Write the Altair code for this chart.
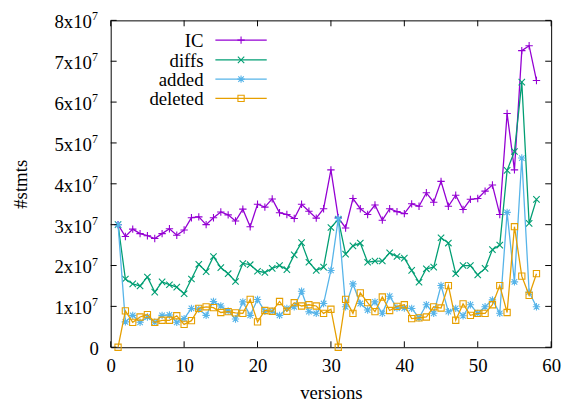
import altair as alt
import pandas as pd

versions = list(range(1, 59))

ic = [3.0, 2.71, 2.89, 2.78, 2.73, 2.66, 2.78, 2.9, 2.74, 2.87,
      3.17, 3.19, 3.0, 3.17, 3.31, 3.24, 3.09, 3.38, 2.95, 3.5,
      3.43, 3.63, 3.29, 3.25, 3.15, 3.5, 3.33, 3.16, 3.39, 4.34,
      3.17, 2.92, 3.64, 3.39, 3.25, 3.48, 3.11, 3.39, 3.32, 3.27,
      3.51, 3.45, 3.78, 3.55, 4.06, 3.45, 3.72, 3.37, 3.62, 3.64,
      3.82, 3.97, 3.25, 5.72, 4.34, 7.26, 7.38, 6.53]
diffs = [3.0, 1.67, 1.55, 1.5, 1.72, 1.35, 1.6, 1.53, 1.47, 1.31,
         1.67, 2.03, 1.85, 2.22, 1.95, 1.8, 1.61, 2.05, 2.02, 1.86,
         1.83, 1.93, 2.0, 1.9, 2.26, 2.56, 2.08, 1.88, 1.96, 2.93,
         3.13, 2.28, 2.48, 2.55, 2.08, 2.11, 2.11, 2.31, 2.22, 2.18,
         1.88, 1.59, 1.92, 1.96, 2.68, 2.55, 1.8, 2.0, 2.0, 1.77,
         1.93, 2.39, 2.5, 4.33, 4.79, 6.49, 3.03, 3.62]
added = [3.0, 0.62, 0.78, 0.61, 0.74, 0.61, 0.78, 0.79, 0.61, 0.7,
         0.95, 0.93, 0.78, 1.12, 1.01, 0.89, 0.69, 1.11, 0.78, 1.17,
         0.88, 0.88, 0.78, 0.95, 0.99, 1.37, 0.87, 0.83, 1.07, 1.88,
         3.15, 0.99, 1.55, 1.07, 0.91, 1.11, 0.83, 1.25, 0.96, 0.96,
         0.95, 0.72, 1.04, 0.83, 1.51, 0.87, 0.95, 0.77, 1.04, 0.83,
         0.99, 1.16, 0.83, 3.3, 1.6, 4.63, 1.35, 0.99]
deleted = [0.0, 0.89, 0.61, 0.74, 0.8, 0.61, 0.66, 0.66, 0.77, 0.56,
           0.65, 0.95, 0.99, 0.97, 0.85, 0.87, 0.84, 0.83, 1.17, 0.62,
           0.9, 0.88, 1.12, 0.88, 1.09, 1.01, 1.04, 1.01, 0.83, 0.93,
           0.0, 1.17, 0.83, 1.33, 1.09, 0.87, 1.23, 0.9, 1.0, 1.04,
           0.7, 0.72, 0.74, 0.99, 0.96, 1.51, 0.66, 1.06, 0.78, 0.83,
           0.83, 1.04, 1.51, 0.85, 2.95, 1.74, 1.27, 1.8]

series_names = ["IC", "diffs", "added", "deleted"]
series_values = [ic, diffs, added, deleted]
colors = ["#9400D3", "#009E73", "#56B4E9", "#E69F00"]
shapes = ["M-1,0L1,0M0,-1L0,1",
          "M-1,-1L1,1M-1,1L1,-1",
          "M-1,0L1,0M0,-1L0,1M-0.75,-0.75L0.75,0.75M-0.75,0.75L0.75,-0.75",
          "square"]
sizes = [56, 42, 56, 40]

x_ticks = [0, 10, 20, 30, 40, 50, 60]
y_ticks = [0, 1e7, 2e7, 3e7, 4e7, 5e7, 6e7, 7e7, 8e7]

W, H = 446, 331
FONT = "'Liberation Serif', 'Times New Roman', serif"
FS = 19

xscale = alt.Scale(domain=[0, 60], nice=False)
yscale = alt.Scale(domain=[0, 8e7], nice=False)

xaxis = alt.Axis(values=x_ticks, format="d", ticks=False, domain=False, grid=False,
                 labelFont=FONT, labelFontSize=FS, labelColor="black", labelPadding=10,
                 labelFlush=False,
                 title="versions", titleFont=FONT, titleFontSize=FS, titleFontWeight="normal",
                 titleColor="black", titlePadding=8)
yaxis = alt.Axis(values=y_ticks, labels=False, ticks=False, domain=False, grid=False,
                 title="#stmts", titleFont=FONT, titleFontSize=FS, titleFontWeight="normal",
                 titleColor="black", titlePadding=81)


def X(field):
    return alt.X(field, type="quantitative", scale=xscale, axis=xaxis)


def Y(field):
    return alt.Y(field, type="quantitative", scale=yscale, axis=yaxis)


layers = []

for k, (name, vals) in enumerate(zip(series_names, series_values)):
    df = pd.DataFrame({"version": versions, "value": [v * 1e7 for v in vals]})
    base = alt.Chart(df)
    layers.append(base.mark_line(color=colors[k], strokeWidth=1.3).encode(
        x=X("version"), y=Y("value")))
    layers.append(base.mark_point(shape=shapes[k], size=sizes[k], filled=False,
                                  color=colors[k], strokeWidth=1.1, opacity=1).encode(
        x=X("version"), y=Y("value")))

# inward mirrored ticks
ydf = pd.DataFrame({"v": y_ticks})
xdf = pd.DataFrame({"v": x_ticks})
TL = 6
layers.append(alt.Chart(ydf).mark_rule(color="black", strokeWidth=1).encode(
    y=Y("v"), x=alt.value(0), x2=alt.value(TL)))
layers.append(alt.Chart(ydf).mark_rule(color="black", strokeWidth=1).encode(
    y=Y("v"), x=alt.value(W - TL), x2=alt.value(W)))
layers.append(alt.Chart(xdf).mark_rule(color="black", strokeWidth=1).encode(
    x=X("v"), y=alt.value(H), y2=alt.value(H - TL)))
layers.append(alt.Chart(xdf).mark_rule(color="black", strokeWidth=1).encode(
    x=X("v"), y=alt.value(0), y2=alt.value(TL)))

# y tick labels "Nx10^7"
ylab = pd.DataFrame({"v": y_ticks[1:],
                     "base": [f"{i}x10" for i in range(1, 9)],
                     "sup": ["7"] * 8})
layers.append(alt.Chart(ylab).mark_text(align="right", baseline="middle", font=FONT,
                                        fontSize=FS, color="black", dy=2).encode(
    y=Y("v"), x=alt.value(-19), text="base:N"))
layers.append(alt.Chart(ylab).mark_text(align="left", baseline="middle", font=FONT,
                                        fontSize=12, color="black", dy=-4).encode(
    y=Y("v"), x=alt.value(-19), text="sup:N"))
zlab = pd.DataFrame({"v": [0], "t": ["0"]})
layers.append(alt.Chart(zlab).mark_text(align="right", baseline="middle", font=FONT,
                                        fontSize=FS, color="black", dy=2).encode(
    y=Y("v"), x=alt.value(-12), text="t:N"))

# key (gnuplot style: label then sample)
row_y = [20, 40, 59.5, 79]
for k, name in enumerate(series_names):
    ld = pd.DataFrame({"label": [name]})
    layers.append(alt.Chart(ld).mark_text(align="right", baseline="middle", font=FONT,
                                          fontSize=FS, color="black", dy=1).encode(
        x=alt.value(94), y=alt.value(row_y[k]), text="label:N"))
    layers.append(alt.Chart(ld).mark_rule(color=colors[k], strokeWidth=1.3).encode(
        x=alt.value(106), x2=alt.value(158), y=alt.value(row_y[k])))
    layers.append(alt.Chart(ld).mark_point(shape=shapes[k], size=sizes[k], filled=False,
                                           color=colors[k], strokeWidth=1.1, opacity=1).encode(
        x=alt.value(132), y=alt.value(row_y[k])))

chart = alt.layer(*layers).properties(
    width=W, height=H,
    padding={"left": 104, "top": 10, "right": 12, "bottom": 59},
    autosize=alt.AutoSizeParams(type="none"),
).configure_view(stroke="black", strokeWidth=1)

chart.save("out.html", embed_options={"renderer": "svg", "actions": False})
